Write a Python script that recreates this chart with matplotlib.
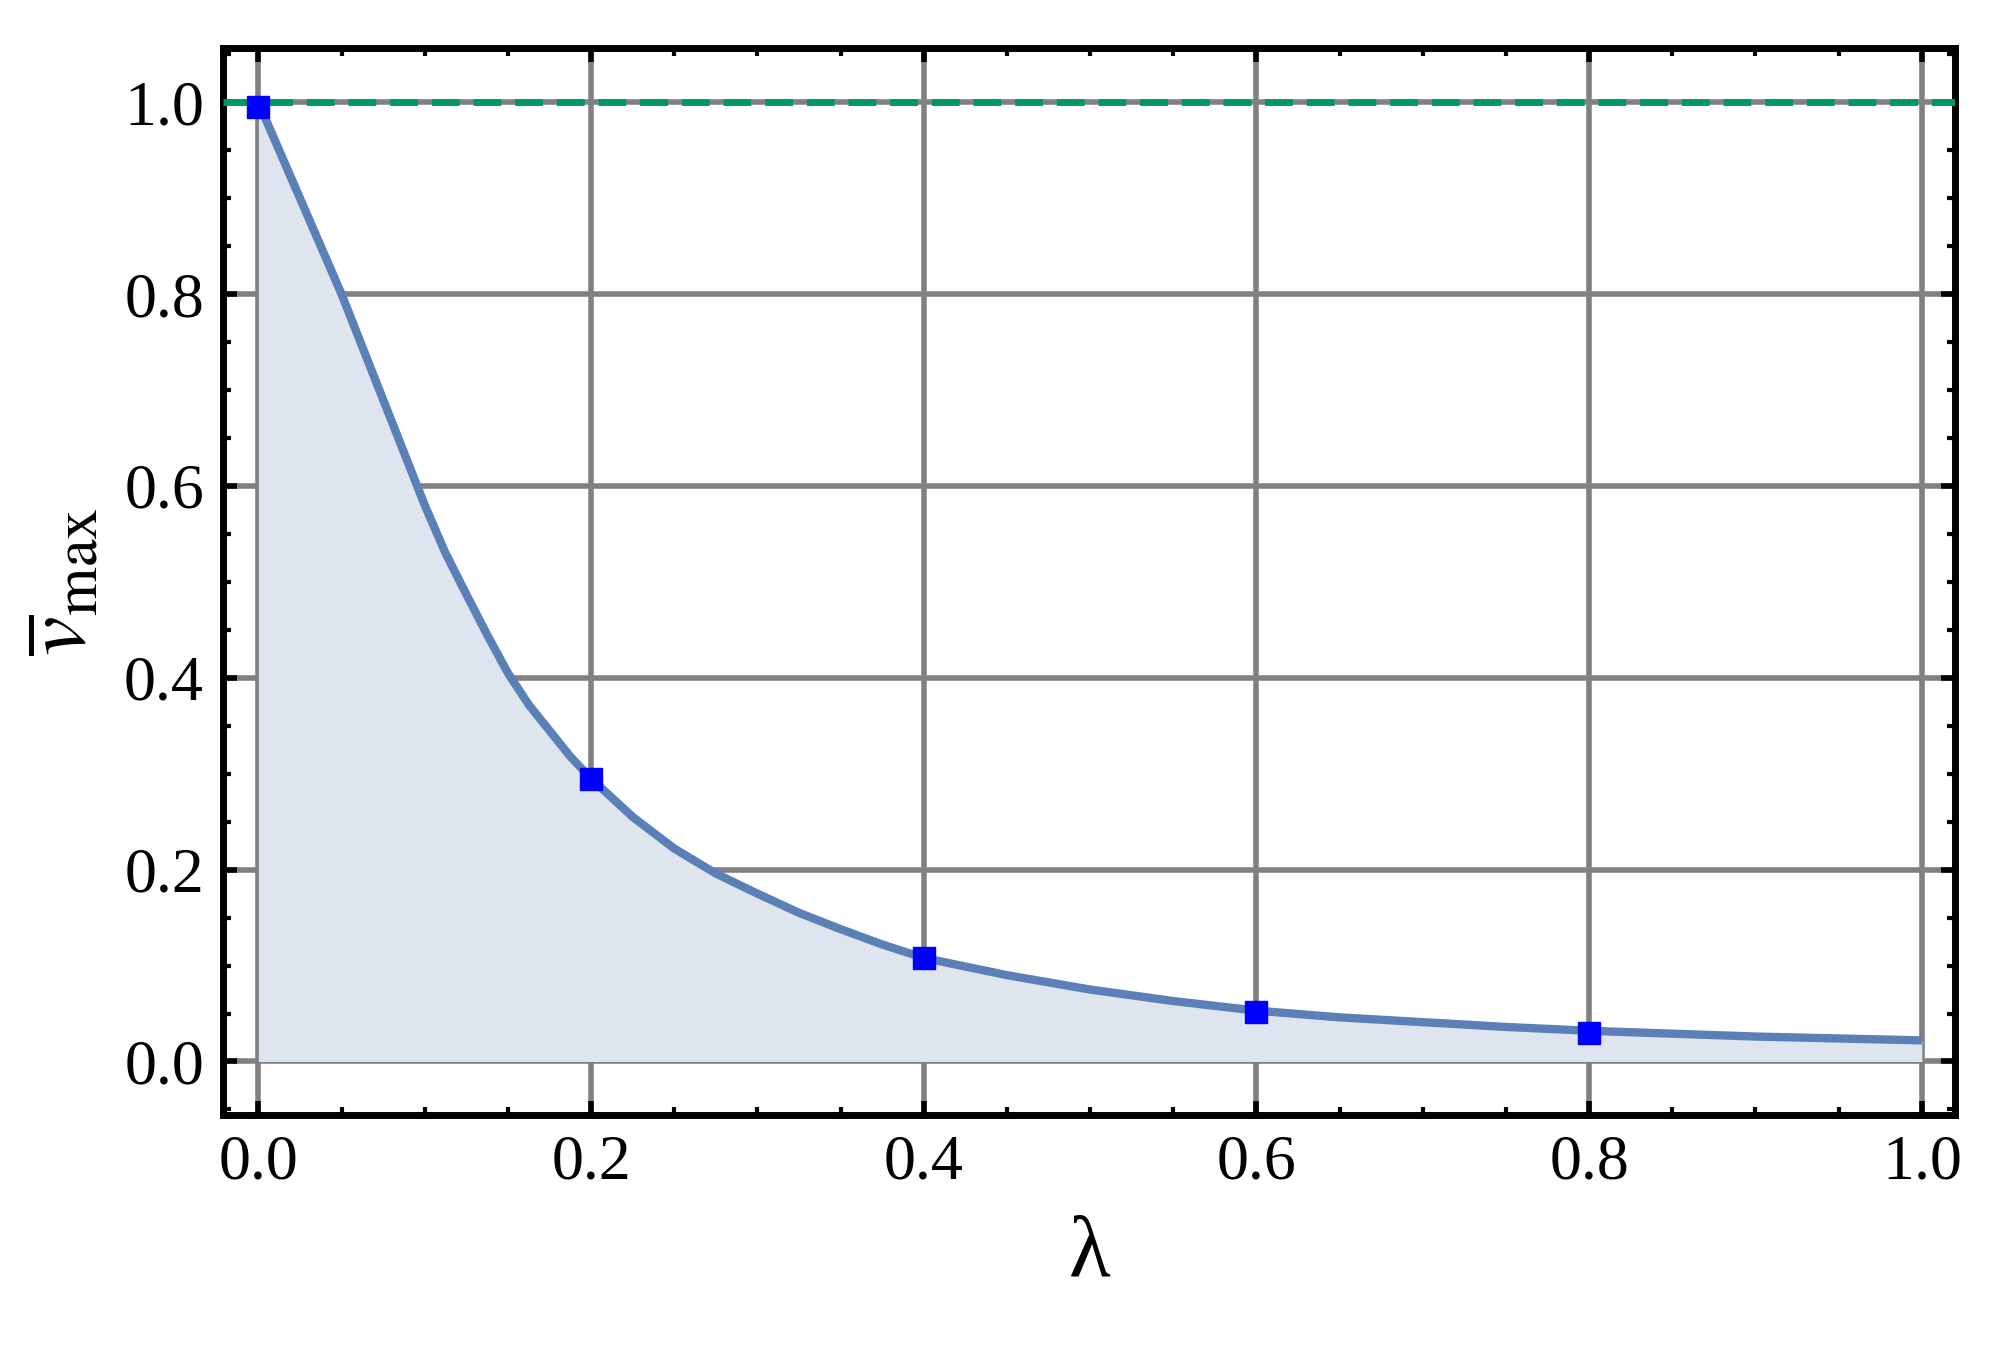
import matplotlib
matplotlib.use("Agg")
import matplotlib.pyplot as plt
from matplotlib.ticker import MultipleLocator

lam_curve = [0.0, 0.0125, 0.025, 0.0375, 0.05, 0.0625, 0.075, 0.0875, 0.1, 0.1125, 0.125, 0.1375, 0.15, 0.1625, 0.175, 0.1875,
             0.2, 0.225, 0.25, 0.275, 0.3, 0.325, 0.35, 0.375, 0.4, 0.45, 0.5, 0.55, 0.6, 0.65, 0.7, 0.75, 0.8, 0.85, 0.9, 0.95, 1.0]
v_curve = [1.0, 0.95, 0.90, 0.85, 0.80, 0.745, 0.69, 0.635, 0.58, 0.53, 0.487, 0.445, 0.405, 0.372, 0.345, 0.318,
           0.295, 0.255, 0.222, 0.196, 0.175, 0.155, 0.138, 0.122, 0.108, 0.090, 0.075, 0.063, 0.053, 0.046, 0.041, 0.036, 0.032, 0.029, 0.026, 0.024, 0.022]
lam_pts = [0.0, 0.2, 0.4, 0.6, 0.8]
v_pts = [0.995, 0.295, 0.108, 0.052, 0.030]
bound = 1.0

plt.rcParams['font.family'] = ['Liberation Serif', 'DejaVu Serif']
plt.rcParams['mathtext.fontset'] = 'stix'
fig = plt.figure(figsize=(19.95, 13.6), dpi=100)
ax = fig.add_axes([0.112, 0.18, 0.868, 0.785])
ax.set_xlim(-0.021, 1.02)
ax.set_ylim(-0.056, 1.057)
ax.grid(True, color='#808080', lw=4)
ax.set_axisbelow(True)
ax.fill_between(lam_curve, 0, v_curve, color='#dfe5ef', lw=0, zorder=2)
ax.plot(lam_curve, v_curve, color='#5b80b8', lw=6, zorder=3, solid_capstyle='butt')
ax.axhline(bound, color='#009966', lw=5, ls=(0, (4, 2)), zorder=3)
ax.plot(lam_pts, v_pts, 's', color='#0000ff', ms=16, zorder=4)
ax.xaxis.set_major_locator(MultipleLocator(0.2))
ax.xaxis.set_minor_locator(MultipleLocator(0.05))
ax.yaxis.set_major_locator(MultipleLocator(0.2))
ax.yaxis.set_minor_locator(MultipleLocator(0.05))
ax.tick_params(which='both', direction='in', top=True, right=True, labelsize=46, pad=14)
ax.tick_params(which='major', length=10, width=4)
ax.tick_params(which='minor', length=6, width=3)
for s in ax.spines.values():
    s.set_linewidth(5)
ax.xaxis.set_major_formatter(plt.FuncFormatter(lambda v, p: f"{v:.1f}"))
ax.yaxis.set_major_formatter(plt.FuncFormatter(lambda v, p: f"{v:.1f}"))
ax.set_xlabel('λ', fontsize=62, labelpad=16)
ax.set_ylabel(r'$\overline{v}_{\mathrm{max}}$', fontsize=64, labelpad=14)
fig.savefig('out.png')
